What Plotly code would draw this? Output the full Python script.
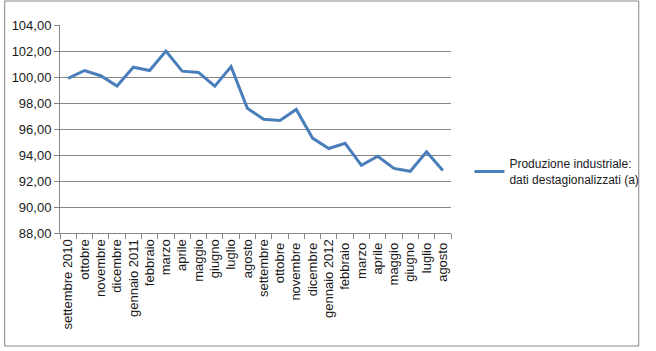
import plotly.graph_objects as go

months = ["settembre 2010", "ottobre", "novembre", "dicembre", "gennaio 2011", "febbraio",
          "marzo", "aprile", "maggio", "giugno", "luglio", "agosto",
          "settembre", "ottobre ", "novembre ", "dicembre ", "gennaio 2012", "febbraio ",
          "marzo ", "aprile ", "maggio ", "giugno ", "luglio ", "agosto "]
values = [99.9, 100.5, 100.1, 99.3, 100.75, 100.5, 102.0, 100.45, 100.35, 99.3, 100.8, 97.6,
          96.75, 96.65, 97.5, 95.3, 94.5, 94.9, 93.2, 93.9, 92.97, 92.75, 94.25, 92.8]
series_name = "Produzione industriale:<br>dati destagionalizzati (a)"

W, H = 656, 351
L, R, T, B = 58, 461, 25, 233
pw, ph = R - L, B - T

def px(x):
    return (x - L) / pw

def py(y):
    return (B - y) / ph

fig = go.Figure()
fig.add_trace(go.Scatter(x=months, y=values, mode="lines", name=series_name,
                         line=dict(color="#4A7EBB", width=3)))

font = "Liberation Sans"
fig.update_layout(
    width=W, height=H,
    margin=dict(l=L, r=W - R, t=T, b=H - B),
    paper_bgcolor="white", plot_bgcolor="white",
    separators=",.",
    font=dict(family=font, size=12, color="#1a1a1a"),
    showlegend=True,
    legend=dict(x=px(480), y=py(172), xanchor="left", yanchor="middle",
                font=dict(size=12, color="#1a1a1a"), bgcolor="rgba(0,0,0,0)",
                itemwidth=30),
    xaxis=dict(type="category", tickangle=-90, tickson="boundaries",
               ticks="outside", ticklen=5, tickcolor="#868686",
               showline=True, linecolor="#868686", linewidth=1,
               showgrid=False, tickfont=dict(size=13), range=[-0.5, 23.5]),
    yaxis=dict(range=[88, 104], dtick=2, tickformat=".2f",
               ticks="outside", ticklen=5, tickcolor="#868686",
               showline=True, linecolor="#868686", linewidth=1,
               showgrid=True, gridcolor="#868686", gridwidth=1,
               zeroline=False, tickfont=dict(size=13)),
    shapes=[dict(type="rect", xref="paper", yref="paper",
                 x0=px(1), x1=px(654.5), y0=py(1), y1=py(346),
                 line=dict(color="#868686", width=1), fillcolor="rgba(0,0,0,0)",
                 layer="below")],
)

fig.write_html("out.html")
